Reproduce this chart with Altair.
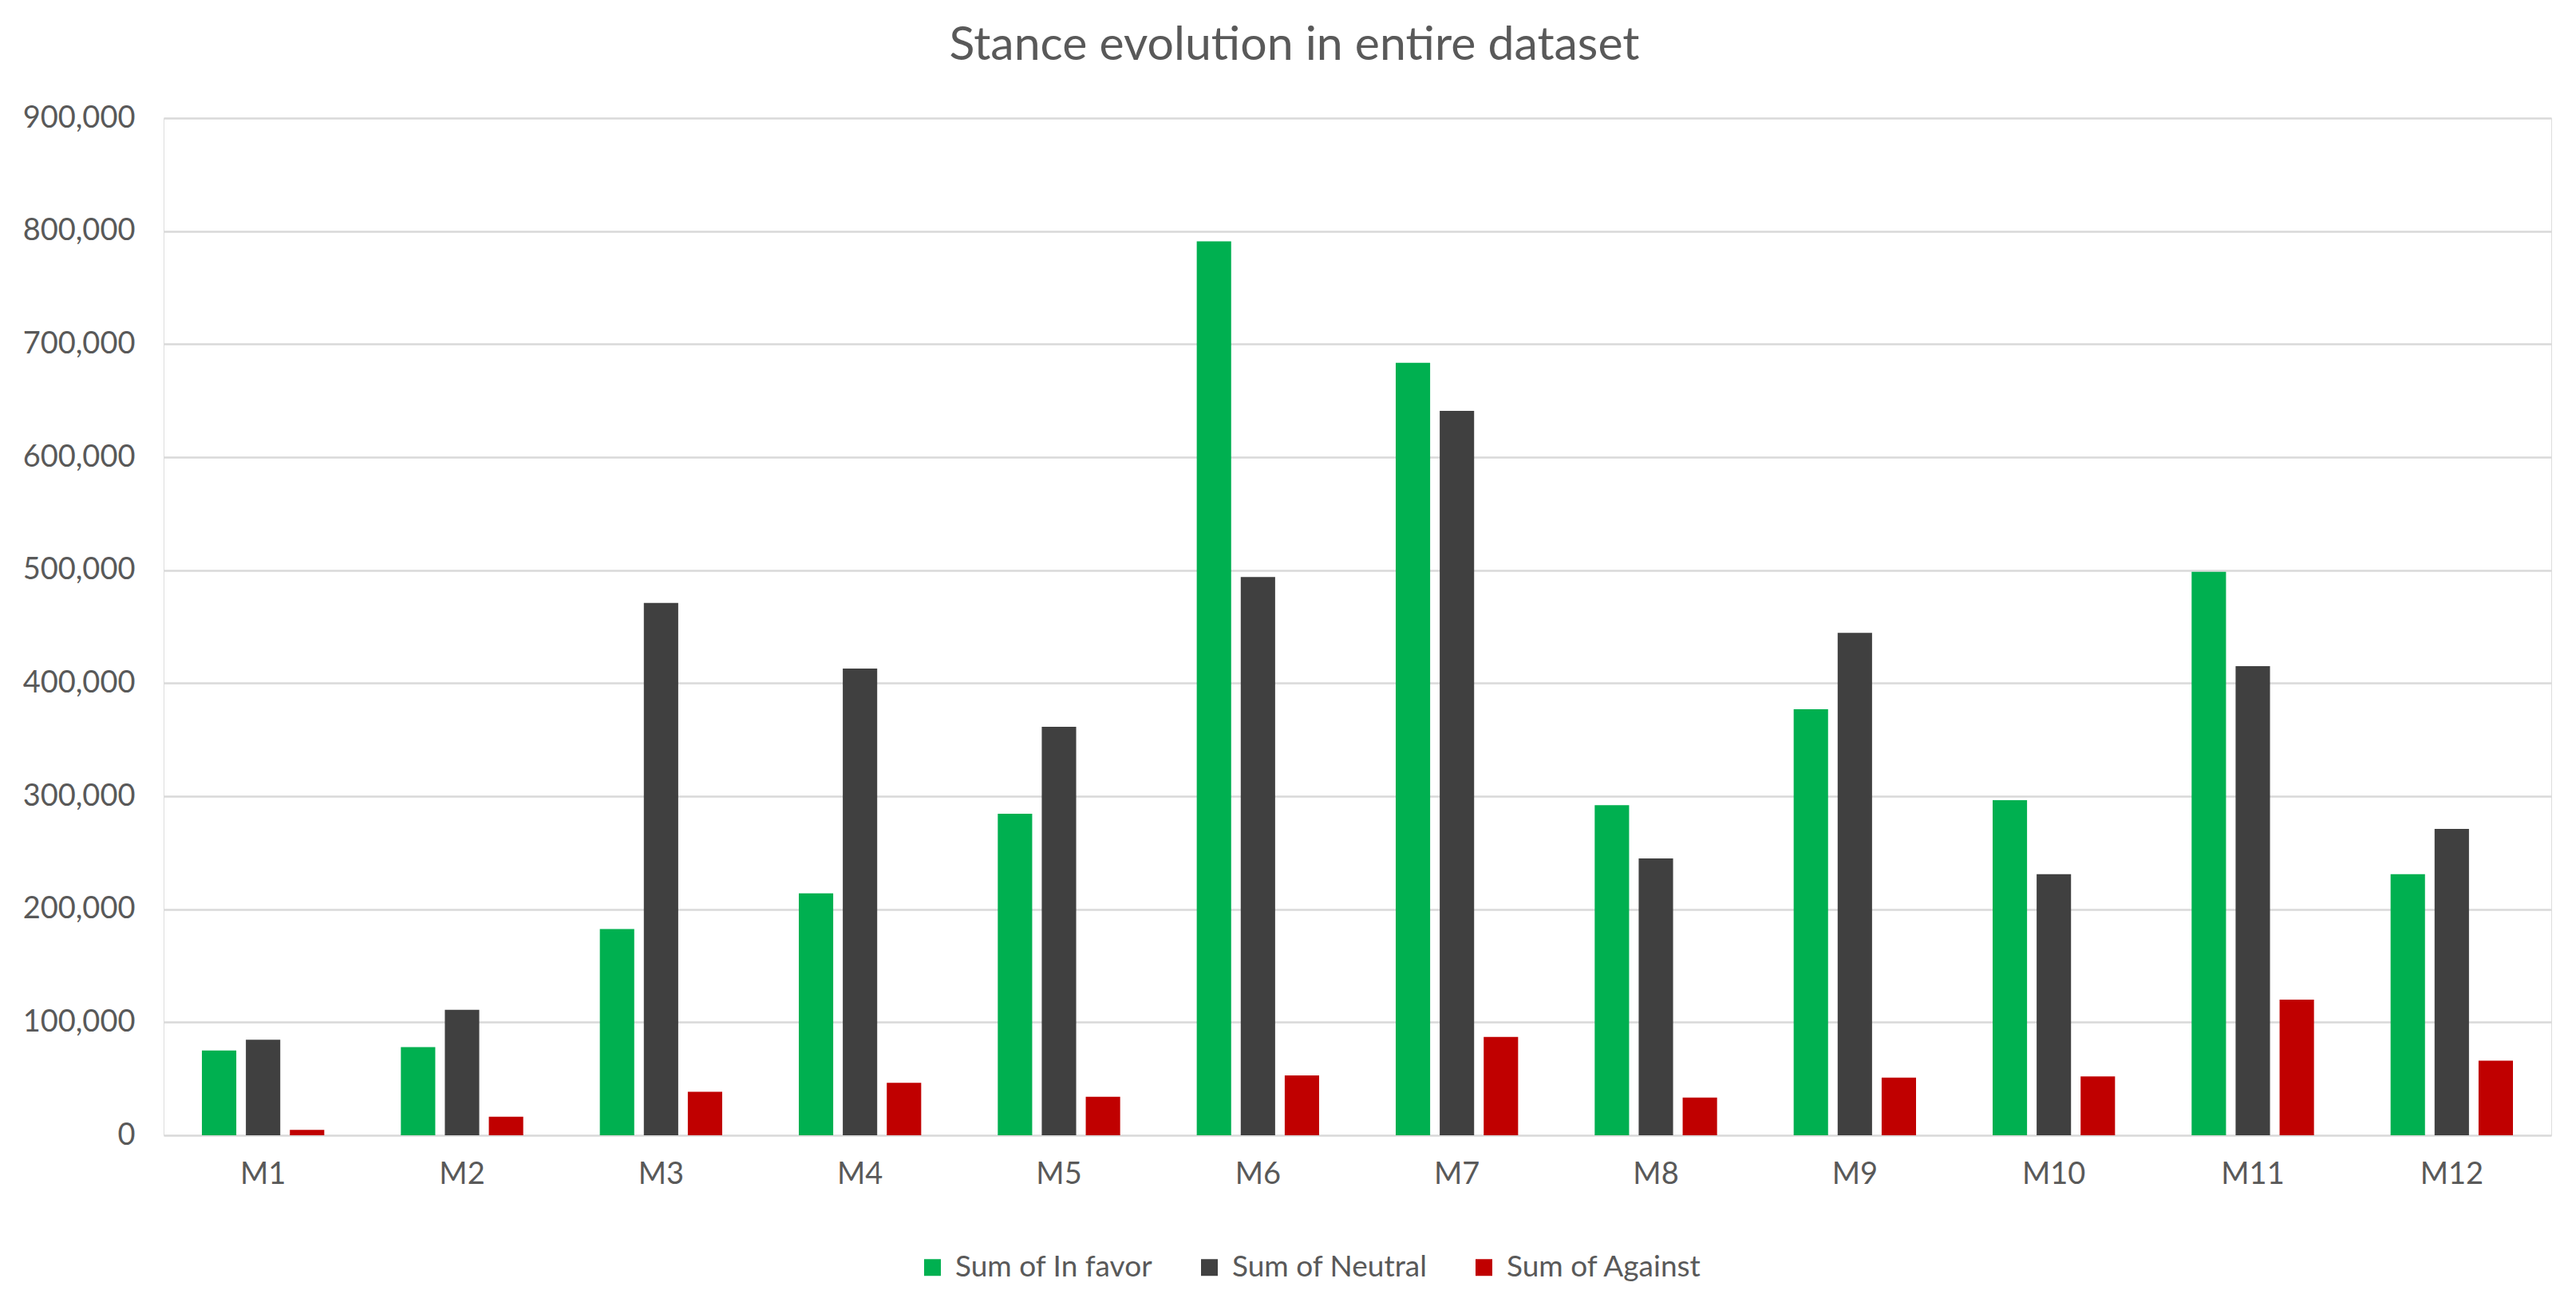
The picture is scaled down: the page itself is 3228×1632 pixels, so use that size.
import altair as alt
import pandas as pd

months = ["M1", "M2", "M3", "M4", "M5", "M6", "M7", "M8", "M9", "M10", "M11", "M12"]
in_favor = [75000, 78000, 182500, 214000, 284500, 791000, 683500, 292000, 377000, 296500, 498500, 231000]
neutral = [84500, 111000, 471000, 413000, 361500, 494000, 641000, 245000, 444500, 231000, 415000, 271000]
against = [4700, 16500, 38500, 46500, 34000, 53000, 87000, 33300, 51000, 52000, 120000, 66000]
series = ["Sum of In favor", "Sum of Neutral", "Sum of Against"]
colors = ["#00B050", "#404040", "#C00000"]
y_ticks = [0, 100000, 200000, 300000, 400000, 500000, 600000, 700000, 800000, 900000]

rows = []
for i, m in enumerate(months):
    for s, vals in zip(series, [in_favor, neutral, against]):
        rows.append({"month": m, "series": s, "value": vals[i]})
df = pd.DataFrame(rows)

FONT = "Lato"
GRAY = "#595959"

chart = alt.Chart(df).mark_bar().encode(
    x=alt.X("month:N", sort=months,
            scale=alt.Scale(paddingInner=0.385, paddingOuter=0.1925),
            axis=alt.Axis(title=None, labelAngle=0, domain=False, ticks=False,
                          labelPadding=30, labelFontSize=38, labelFont=FONT,
                          labelColor=GRAY, grid=False)),
    xOffset=alt.XOffset("series:N", sort=series,
                        scale=alt.Scale(paddingInner=0.218, paddingOuter=0)),
    y=alt.Y("value:Q", scale=alt.Scale(domain=[0, 900000], nice=False),
            axis=alt.Axis(title=None, values=y_ticks, format=",.0f", domain=False,
                          ticks=False, labelPadding=36, labelFontSize=38,
                          labelFont=FONT, labelColor=GRAY,
                          gridColor="#D9D9D9", gridWidth=2.5)),
    color=alt.Color("series:N", sort=series,
                    scale=alt.Scale(domain=series, range=colors),
                    legend=alt.Legend(orient="none", legendX=945, legendY=1422,
                                      direction="horizontal", title=None,
                                      symbolType="square", symbolSize=440,
                                      symbolStrokeWidth=0, labelLimit=0,
                                      labelFontSize=37, labelFont=FONT,
                                      labelColor=GRAY, columnPadding=52,
                                      labelOffset=10)),
).properties(
    width=2992, height=1275,
    title=alt.Title("Stance evolution in entire dataset", fontSize=59, font=FONT,
                    color=GRAY, fontWeight="normal", anchor="middle",
                    offset=42, dx=-79),
    autosize=alt.AutoSizeParams(type="none"),
    padding={"left": 197, "top": 140, "right": 20, "bottom": 195},
).configure_view(stroke=None).configure(background="white")

chart.save("out.html", embed_options={"renderer": "svg", "actions": False})
